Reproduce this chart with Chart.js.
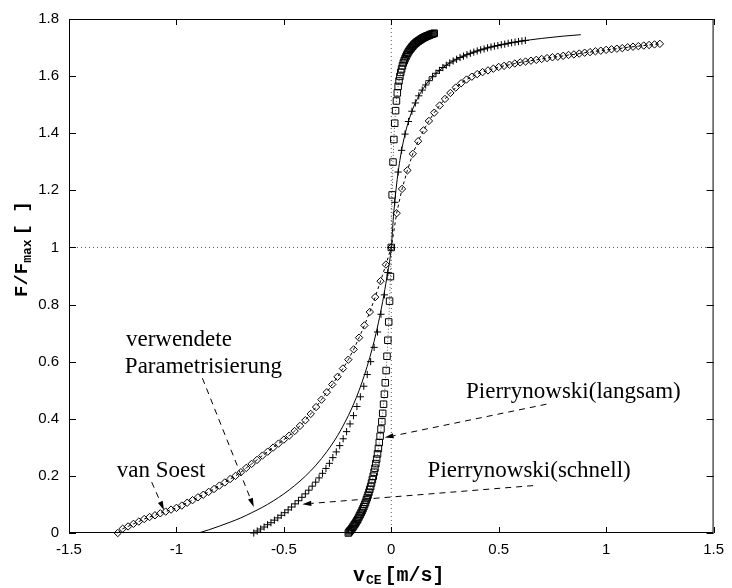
<!DOCTYPE html>
<html>
<head>
<meta charset="utf-8">
<script src="https://cdn.jsdelivr.net/npm/chart.js@4.4.1/dist/chart.umd.min.js"></script>
<style>
  html, body { margin: 0; padding: 0; background: #fff; }
</style>
</head>
<body>
<canvas id="c" width="732" height="588"></canvas>
<script>
// tick values
const xTicks = [-1.5, -1, -0.5, 0, 0.5, 1, 1.5];
const yTicks = [0, 0.2, 0.4, 0.6, 0.8, 1, 1.2, 1.4, 1.6, 1.8];

// van Soest (diamonds)
const vanSoestV = [-1.273,-1.25,-1.225,-1.2,-1.175,-1.15,-1.125,-1.1,-1.075,-1.05,-1.025,-1.0,-0.975,-0.95,-0.925,-0.9,-0.875,-0.85,-0.825,-0.8,-0.775,-0.75,-0.725,-0.7,-0.675,-0.65,-0.625,-0.6,-0.575,-0.55,-0.525,-0.5,-0.475,-0.45,-0.425,-0.4,-0.375,-0.35,-0.325,-0.3,-0.275,-0.25,-0.225,-0.2,-0.175,-0.15,-0.125,-0.1,-0.075,-0.05,-0.025,0,
  0.025,0.05,0.075,0.1,0.125,0.15,0.175,0.2,0.225,0.25,0.275,0.3,0.325,0.35,0.375,0.4,0.425,0.45,0.475,0.5,0.525,0.55,0.575,0.6,0.625,0.65,0.675,0.7,0.725,0.75,0.775,0.8,0.825,0.85,0.875,0.9,0.925,0.95,0.975,1.0,1.025,1.05,1.075,1.1,1.125,1.15,1.175,1.2,1.225,1.25];
const vanSoestF = [0,0.015,0.023,0.032,0.04,0.049,0.056,0.062,0.069,0.075,0.082,0.088,0.096,0.106,0.115,0.125,0.134,0.144,0.154,0.166,0.177,0.189,0.2,0.213,0.228,0.242,0.256,0.271,0.285,0.299,0.313,0.327,0.341,0.357,0.375,0.395,0.417,0.441,0.467,0.493,0.52,0.547,0.576,0.607,0.643,0.684,0.727,0.774,0.826,0.882,0.94,1.0,
  1.12,1.205,1.27,1.328,1.372,1.41,1.443,1.472,1.497,1.52,1.541,1.56,1.575,1.588,1.598,1.607,1.614,1.62,1.626,1.632,1.636,1.64,1.644,1.648,1.651,1.654,1.657,1.66,1.663,1.666,1.668,1.671,1.674,1.676,1.679,1.682,1.684,1.687,1.689,1.692,1.694,1.696,1.698,1.701,1.703,1.705,1.707,1.709,1.711,1.713];

// verwendete Parametrisierung (solid line)
const paramV = [-0.897,-0.85,-0.8,-0.75,-0.7,-0.65,-0.6,-0.55,-0.5,-0.45,-0.4,-0.35,-0.3,-0.25,-0.2,-0.175,-0.15,-0.125,-0.1,-0.08,-0.06,-0.04,-0.02,0,0.01,0.02,0.03,0.04,0.05,0.07,0.1,0.13,0.16,0.2,0.25,0.3,0.4,0.5,0.6,0.7,0.8,0.882];
const paramF = [0,0.011,0.024,0.038,0.053,0.071,0.09,0.112,0.137,0.166,0.199,0.238,0.285,0.341,0.411,0.452,0.499,0.553,0.615,0.671,0.736,0.811,0.898,1,1.107,1.188,1.253,1.305,1.348,1.415,1.485,1.533,1.569,1.604,1.635,1.658,1.688,1.708,1.722,1.732,1.74,1.745];

// Pierrynowski (schnell) (plus)
const schnellV = [-0.64,-0.624,-0.608,-0.592,-0.576,-0.56,-0.544,-0.528,-0.512,-0.496,-0.48,-0.464,-0.448,-0.432,-0.416,-0.4,-0.384,-0.368,-0.352,-0.336,-0.32,-0.304,-0.288,-0.272,-0.256,-0.24,-0.224,-0.208,-0.192,-0.176,-0.16,-0.144,-0.128,-0.112,-0.096,-0.08,-0.064,-0.048,-0.032,-0.016,0,
  0.016,0.032,0.048,0.064,0.08,0.096,0.112,0.128,0.144,0.16,0.176,0.192,0.208,0.224,0.24,0.256,0.272,0.288,0.304,0.32,0.336,0.352,0.368,0.384,0.4,0.416,0.432,0.448,0.464,0.48,0.496,0.512,0.528,0.544,0.56,0.576,0.592,0.608,0.624];
const schnellF = [0,0.007,0.014,0.021,0.029,0.036,0.045,0.053,0.062,0.071,0.081,0.091,0.102,0.113,0.125,0.137,0.15,0.164,0.178,0.193,0.209,0.226,0.244,0.264,0.284,0.306,0.33,0.355,0.382,0.411,0.443,0.477,0.514,0.555,0.6,0.65,0.704,0.766,0.834,0.912,1,
  1.158,1.264,1.34,1.397,1.441,1.477,1.506,1.531,1.551,1.569,1.584,1.598,1.61,1.62,1.63,1.638,1.646,1.653,1.659,1.665,1.67,1.675,1.68,1.684,1.688,1.692,1.695,1.699,1.702,1.705,1.707,1.71,1.712,1.715,1.717,1.719,1.721,1.723,1.725];

// Pierrynowski (langsam) (squares)
const langsamV = [-0.2,-0.196,-0.192,-0.188,-0.184,-0.18,-0.176,-0.172,-0.168,-0.164,-0.16,-0.156,-0.152,-0.148,-0.144,-0.14,-0.136,-0.132,-0.128,-0.124,-0.12,-0.116,-0.112,-0.108,-0.104,-0.1,-0.096,-0.092,-0.088,-0.084,-0.08,-0.076,-0.072,-0.068,-0.064,-0.06,-0.056,-0.052,-0.048,-0.044,-0.04,-0.036,-0.032,-0.028,-0.024,-0.02,-0.016,-0.012,-0.008,-0.004,0,
  0.004,0.008,0.012,0.016,0.02,0.024,0.028,0.032,0.036,0.04,0.044,0.048,0.052,0.056,0.06,0.064,0.068,0.072,0.076,0.08,0.084,0.088,0.092,0.096,0.1,0.104,0.108,0.112,0.116,0.12,0.124,0.128,0.132,0.136,0.14,0.144,0.148,0.152,0.156,0.16,0.164,0.168,0.172,0.176,0.18,0.184,0.188,0.192,0.196,0.2];
const langsamF = [0,0.004,0.008,0.011,0.015,0.02,0.024,0.029,0.033,0.038,0.043,0.048,0.054,0.06,0.066,0.072,0.078,0.085,0.092,0.1,0.107,0.116,0.124,0.133,0.143,0.153,0.163,0.175,0.187,0.199,0.213,0.227,0.243,0.259,0.277,0.296,0.317,0.339,0.364,0.39,0.419,0.451,0.486,0.526,0.569,0.619,0.675,0.739,0.812,0.898,1,
  1.184,1.299,1.378,1.435,1.479,1.513,1.541,1.564,1.583,1.599,1.613,1.625,1.636,1.646,1.654,1.661,1.668,1.674,1.68,1.685,1.69,1.694,1.698,1.702,1.705,1.709,1.712,1.715,1.717,1.72,1.722,1.724,1.726,1.728,1.73,1.732,1.734,1.735,1.737,1.738,1.74,1.741,1.742,1.743,1.745,1.746,1.747,1.748,1.749,1.75];

const pts = (xs, ys) => xs.map((x, i) => ({ x: x, y: ys[i] }));

const serif = '"Liberation Serif", "Times New Roman", serif';
const mono = '"Liberation Mono", "Courier New", monospace';

// annotations: text and dashed arrows, positioned in data units
const labels = [
  { t: 'verwendete', x: -1.235, y: 0.656 },
  { t: 'Parametrisierung', x: -1.24, y: 0.559 },
  { t: 'van Soest', x: -1.278, y: 0.195 },
  { t: 'Pierrynowski(langsam)', x: 0.348, y: 0.472 },
  { t: 'Pierrynowski(schnell)', x: 0.169, y: 0.195 }
];
const arrows = [
  [-0.879, 0.542, -0.64, 0.091],
  [-1.115, 0.178, -1.058, 0.08],
  [0.722, 0.451, -0.031, 0.334],
  [0.66, 0.166, -0.414, 0.101]
];

const deko = {
  id: 'deko',
  afterDraw(chart) {
    const ctx = chart.ctx;
    const a = chart.chartArea;
    const sx = chart.scales.x, sy = chart.scales.y;
    ctx.save();

    // frame + inward ticks
    ctx.strokeStyle = '#000';
    ctx.lineWidth = 1;
    ctx.strokeRect(a.left + 0.5, a.top + 0.5, a.right - a.left - 1, a.bottom - a.top - 1);
    ctx.beginPath();
    xTicks.forEach(v => {
      const px = Math.round(sx.getPixelForValue(v)) + 0.5;
      ctx.moveTo(px, a.bottom); ctx.lineTo(px, a.bottom - 6);
      ctx.moveTo(px, a.top); ctx.lineTo(px, a.top + 6);
    });
    yTicks.forEach(v => {
      const py = Math.round(sy.getPixelForValue(v)) + 0.5;
      ctx.moveTo(a.left, py); ctx.lineTo(a.left + 7, py);
      ctx.moveTo(a.right, py); ctx.lineTo(a.right - 7, py);
    });
    ctx.stroke();

    // annotation text
    ctx.fillStyle = '#000';
    ctx.font = '23px ' + serif;
    ctx.textBaseline = 'alphabetic';
    ctx.textAlign = 'left';
    labels.forEach(l => ctx.fillText(l.t, sx.getPixelForValue(l.x), sy.getPixelForValue(l.y)));

    // dashed arrows
    arrows.forEach(([x1, y1, x2, y2]) => {
      const p1 = [sx.getPixelForValue(x1), sy.getPixelForValue(y1)];
      const p2 = [sx.getPixelForValue(x2), sy.getPixelForValue(y2)];
      const ang = Math.atan2(p2[1] - p1[1], p2[0] - p1[0]);
      const hl = 9, hw = 2.6;
      const bx = p2[0] - hl * Math.cos(ang), by = p2[1] - hl * Math.sin(ang);
      ctx.setLineDash([6, 5]);
      ctx.beginPath();
      ctx.moveTo(p1[0], p1[1]); ctx.lineTo(bx, by);
      ctx.stroke();
      ctx.setLineDash([]);
      ctx.beginPath();
      ctx.moveTo(p2[0], p2[1]);
      ctx.lineTo(bx + hw * Math.sin(ang), by - hw * Math.cos(ang));
      ctx.lineTo(bx - hw * Math.sin(ang), by + hw * Math.cos(ang));
      ctx.closePath();
      ctx.fill();
    });

    // x axis title: v_CE [m/s]
    let x = 353, base = 581;
    ctx.font = 'bold 20px ' + mono;
    ctx.fillText('v', x, base);
    x += ctx.measureText('v').width + 1;
    ctx.font = 'bold 13px ' + mono;
    ctx.fillText('CE', x, base + 3);
    x += ctx.measureText('CE').width + 3;
    ctx.font = 'bold 20px ' + mono;
    ctx.fillText('[m/s]', x, base);

    // y axis title: F/F_max [ ]
    ctx.translate(27, 297);
    ctx.rotate(-Math.PI / 2);
    let t = 0;
    ctx.font = 'bold 19px ' + mono;
    ctx.fillText('F/F', t, 0);
    t += ctx.measureText('F/F').width;
    ctx.font = 'bold 13px ' + mono;
    ctx.fillText('max', t, 4);
    t += ctx.measureText('max').width + 4;
    ctx.font = 'bold 19px ' + mono;
    ctx.fillText('[ ]', t, 0);

    ctx.restore();
  }
};

const hollow = { pointBackgroundColor: 'rgba(0,0,0,0)', pointBorderColor: '#000', pointBorderWidth: 1, clip: false };

new Chart(document.getElementById('c'), {
  type: 'scatter',
  data: {
    datasets: [
      Object.assign({
        label: 'Pierrynowski(langsam)',
        data: pts(langsamV, langsamF),
        pointStyle: 'rect', pointRadius: 4.6,
        showLine: true, borderColor: '#555', borderWidth: 1, borderDash: [1, 2]
      }, hollow),
      Object.assign({
        label: 'Pierrynowski(schnell)',
        data: pts(schnellV, schnellF),
        pointStyle: 'cross', pointRadius: 3.6,
        showLine: false
      }, hollow),
      {
        label: 'verwendete Parametrisierung',
        data: pts(paramV, paramF),
        showLine: true, pointRadius: 0, borderColor: '#000', borderWidth: 1,
        cubicInterpolationMode: 'monotone'
      },
      Object.assign({
        label: 'van Soest',
        data: pts(vanSoestV, vanSoestF),
        pointStyle: 'rectRot', pointRadius: 3.7,
        showLine: true, borderColor: '#000', borderWidth: 1, borderDash: [3, 3]
      }, hollow),
      {
        label: 'v0',
        data: [{ x: 0, y: 0 }, { x: 0, y: 1.8 }],
        showLine: true, pointRadius: 0, borderColor: '#555', borderWidth: 1, borderDash: [1, 3]
      },
      {
        label: 'F1',
        data: [{ x: -1.5, y: 1 }, { x: 1.5, y: 1 }],
        showLine: true, pointRadius: 0, borderColor: '#555', borderWidth: 1, borderDash: [1, 3]
      }
    ]
  },
  options: {
    responsive: false,
    animation: false,
    events: [],
    layout: { padding: { top: 14, right: 11, left: 0, bottom: 0 } },
    plugins: { legend: { display: false }, tooltip: { enabled: false } },
    scales: {
      x: {
        type: 'linear', min: -1.5, max: 1.5,
        afterBuildTicks: s => { s.ticks = xTicks.map(v => ({ value: v })); },
        afterFit: s => { s.height = 55; },
        grid: { display: false, drawTicks: false },
        border: { display: false },
        ticks: { autoSkip: false, maxRotation: 0, padding: 8, color: '#000',
                 font: { family: '"Liberation Sans", Arial, sans-serif', size: 15 },
                 callback: v => String(v) }
      },
      y: {
        type: 'linear', min: 0, max: 1.8,
        afterBuildTicks: s => { s.ticks = yTicks.map(v => ({ value: v })); },
        afterFit: s => { s.width = 69; },
        grid: { display: false, drawTicks: false },
        border: { display: false },
        ticks: { autoSkip: false, padding: 10, color: '#000',
                 font: { family: '"Liberation Sans", Arial, sans-serif', size: 15 },
                 callback: v => String(v) }
      }
    }
  },
  plugins: [deko]
});
</script>
</body>
</html>
